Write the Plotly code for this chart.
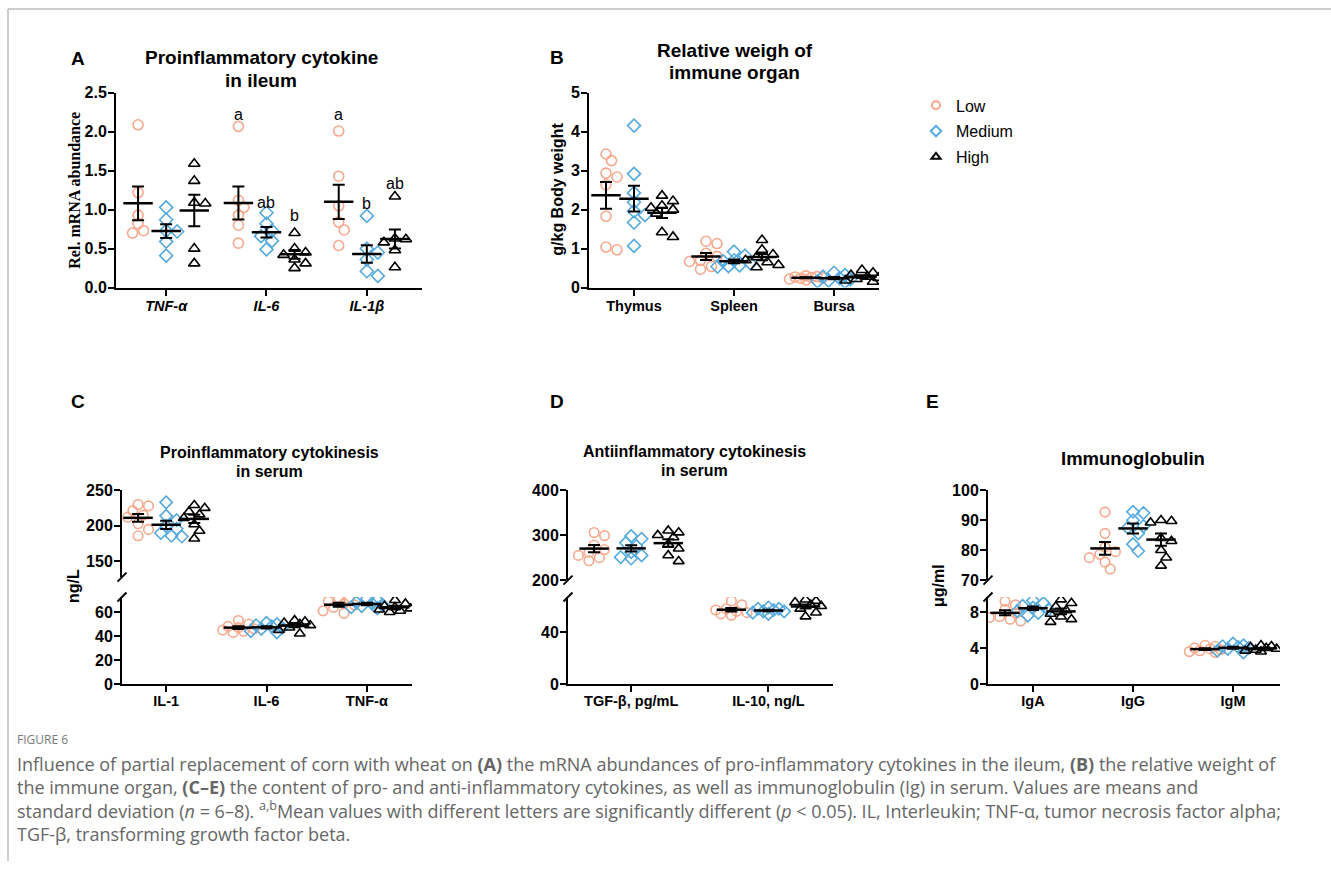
import numpy as np
import plotly.graph_objects as go

W, H = 1331, 870
# the photographed page shows the figure shifted down ~8 px and squeezed ~1.8 % vertically;
# vertical layout positions below are written in target-picture pixels and mapped with Y()
Y_OFF, Y_SCALE = 8.0, 0.982


def Y(y):
    return (y - Y_OFF) / Y_SCALE


GROUPS = ["Low", "Medium", "High"]
COLORS = ["#F6A88C", "#55A9DD", "#000000"]
SYMBOLS = ["circle-open", "diamond-open", "triangle-up-open"]

# ---------------- Panel A: Rel. mRNA abundance (ileum) ----------------
A_categories = ["<i>TNF-α</i>", "<i>IL-6</i>", "<i>IL-1β</i>"]
A_low = [[2.09, 1.22, 0.93, 0.82, 0.73, 0.70],
         [2.07, 1.12, 1.03, 0.93, 0.80, 0.57],
         [2.01, 1.43, 1.05, 0.84, 0.74, 0.54]]
A_medium = [[1.03, 0.87, 0.73, 0.72, 0.59, 0.41],
            [0.96, 0.82, 0.73, 0.66, 0.60, 0.49],
            [0.92, 0.50, 0.45, 0.36, 0.21, 0.15]]
A_high = [[1.59, 1.37, 1.09, 1.08, 0.50, 0.31],
          [0.70, 0.50, 0.45, 0.42, 0.36, 0.31, 0.25],
          [1.17, 0.63, 0.62, 0.58, 0.48, 0.26]]
A_letters = [["", "", ""], ["a", "ab", "b"], ["a", "b", "ab"]]
A_letter_y = [[0, 0, 0], [2.22, 1.09, 0.93], [2.22, 1.08, 1.34]]
A_yticks = [0.0, 0.5, 1.0, 1.5, 2.0, 2.5]

# ---------------- Panel B: relative weight of immune organ ----------------
B_categories = ["Thymus", "Spleen", "Bursa"]
B_low = [[3.43, 3.26, 2.94, 2.84, 2.64, 1.83, 1.04, 0.97],
         [1.19, 1.13, 0.88, 0.80, 0.70, 0.67, 0.54, 0.47],
         [0.30, 0.28, 0.27, 0.26, 0.25, 0.24, 0.22, 0.20]]
B_medium = [[4.16, 2.92, 2.43, 2.19, 1.96, 1.86, 1.67, 1.07],
            [0.92, 0.82, 0.70, 0.68, 0.62, 0.57, 0.55, 0.54],
            [0.38, 0.32, 0.28, 0.24, 0.22, 0.18, 0.16, 0.15]]
B_high = [[2.36, 2.22, 2.10, 2.05, 2.00, 1.90, 1.42, 1.30],
          [1.22, 0.97, 0.85, 0.78, 0.70, 0.65, 0.58, 0.52],
          [0.45, 0.38, 0.32, 0.28, 0.25, 0.22, 0.18, 0.15]]
B_yticks = [0, 1, 2, 3, 4, 5]

# ---------------- Panel C: proinflammatory cytokines in serum ----------------
C_categories = ["IL-1", "IL-6", "TNF-α"]
C_segment = ["upper", "lower", "lower"]
C_low = [[230, 228, 221, 215, 212, 203, 195, 186],
         [53, 50, 48, 47, 46, 45, 44, 43],
         [72, 71, 69, 67, 66, 64, 61, 59]]
C_medium = [[233, 214, 208, 200, 196, 190, 186, 185],
            [51, 50, 49, 48, 47, 46, 44, 43],
            [71, 70, 68, 67, 66, 65, 64, 63]]
C_high = [[229, 225, 220, 216, 211, 202, 193, 182],
          [53, 52, 51, 50, 49, 47, 45, 42],
          [70, 67, 65, 64, 63, 62, 61, 60]]
C_upper_ticks = [150, 200, 250]
C_lower_ticks = [0, 20, 40, 60]

# ---------------- Panel D: antiinflammatory cytokines in serum ----------------
D_categories = ["TGF-β, pg/mL", "IL-10, ng/L"]
D_segment = ["upper", "lower"]
D_low = [[306, 299, 278, 268, 262, 255, 250, 243],
         [64, 61, 58, 57, 56, 55, 54, 53]]
D_medium = [[298, 292, 283, 276, 262, 255, 251, 248],
            [59, 58, 58, 57, 56, 56, 55, 54]]
D_high = [[310, 306, 300, 295, 280, 270, 255, 242],
          [65, 64, 63, 61, 60, 58, 55, 52]]
D_upper_ticks = [200, 300, 400]
D_lower_ticks = [0, 40]

# ---------------- Panel E: immunoglobulin ----------------
E_categories = ["IgA", "IgG", "IgM"]
E_segment = ["lower", "upper", "lower"]
E_low = [[9.2, 8.8, 8.3, 7.9, 7.5, 7.4, 7.2, 7.0],
         [92.7, 85.6, 81.0, 79.5, 78.6, 77.5, 76.0, 73.7],
         [4.3, 4.2, 4.0, 3.9, 3.8, 3.7, 3.6, 3.5]]
E_medium = [[9.3, 9.0, 8.7, 8.5, 8.3, 8.1, 7.9, 7.6],
            [92.8, 92.4, 90.0, 88.0, 87.5, 85.6, 82.0, 79.7],
            [4.5, 4.3, 4.2, 4.1, 4.0, 3.9, 3.7, 3.5]]
E_high = [[9.4, 9.0, 8.6, 8.2, 7.8, 7.5, 7.2, 6.9],
          [90.0, 89.7, 89.2, 84.0, 83.0, 80.0, 77.5, 74.8],
          [4.3, 4.2, 4.1, 4.0, 3.9, 3.8, 3.7, 3.6]]
E_upper_ticks = [70, 80, 90, 100]
E_lower_ticks = [0, 4, 8]

SANS = "Liberation Sans, Arial, sans-serif"
SERIF = "Liberation Serif, Times New Roman, serif"

fig = go.Figure()
layout = dict()
annotations = []
shapes = []


def dx(p0, p1):
    return [p0 / W, p1 / W]


def dy(top, bottom):
    return [1 - Y(bottom) / H, 1 - Y(top) / H]


def axis_names(n):
    return ("x" if n == 1 else f"x{n}", "y" if n == 1 else f"y{n}",
            "xaxis" if n == 1 else f"xaxis{n}", "yaxis" if n == 1 else f"yaxis{n}")


def make_axes(n, xpx, xrange, ypx, yrange, yticks, xticks=None, xtext=None, show_x=True,
              xstand=-2):
    xr, yr, xk, yk = axis_names(n)
    xaxis = dict(domain=dx(*xpx), range=xrange, anchor=yr, visible=show_x,
                 showgrid=False, zeroline=False, fixedrange=True)
    if show_x:
        xaxis.update(showline=True, linecolor="black", linewidth=2,
                     ticks="outside", ticklen=6, tickwidth=2, tickcolor="black",
                     tickmode="array", tickvals=xticks, ticktext=xtext,
                     ticklabelstandoff=xstand,
                     tickfont=dict(family=SANS, size=14.5, color="black", weight="bold"))
    layout[xk] = xaxis
    layout[yk] = dict(domain=dy(*ypx), range=yrange, anchor=xr,
                      showline=True, linecolor="black", linewidth=2,
                      ticks="outside", ticklen=6, tickwidth=2, tickcolor="black",
                      tickmode="array", tickvals=yticks, ticklabelstandoff=-2,
                      ticktext=[(f"{t:.1f}" if isinstance(t, float) else str(t)) for t in yticks],
                      tickfont=dict(family=SANS, size=16, color="black", weight="bold"),
                      showgrid=False, zeroline=False, fixedrange=True)
    return xr, yr


def swarm_offsets(vals, ky, d):
    vals = list(vals)
    order = np.argsort(-np.asarray(vals), kind="stable")
    placed = []
    offs = [0.0] * len(vals)
    step = 0.55 * d
    cands = [0.0]
    for k in range(1, 4):
        cands += [k * step, -k * step]
    for i in order:
        yp = vals[i] * ky
        best, bestd = 0.0, -1.0
        for c in cands:
            md = min([np.hypot(c - px, yp - py) for px, py in placed] or [1e9])
            if md >= 0.85 * d:
                best = c
                break
            if md > bestd:
                bestd, best = md, c
        placed.append((best, yp))
        offs[i] = best
    return offs


def add_groups(xr, yr, cat, group_vals, goff, kx, ky, msize=10):
    for g, vals in enumerate(group_vals):
        offs = swarm_offsets(vals, ky, msize)
        xs = [cat + (g - 1) * goff + o / kx for o in offs]
        fig.add_trace(go.Scatter(
            x=xs, y=vals, xaxis=xr, yaxis=yr, mode="markers", name=GROUPS[g],
            showlegend=False,
            marker=dict(symbol=SYMBOLS[g], size=msize, color=COLORS[g],
                        line=dict(width=1.6, color=COLORS[g]))))
    for g, vals in enumerate(group_vals):
        v = np.asarray(vals, dtype=float)
        m = float(v.mean())
        sem = float(v.std(ddof=1) / np.sqrt(len(v)))
        fig.add_trace(go.Scatter(
            x=[cat + (g - 1) * goff], y=[m], xaxis=xr, yaxis=yr, mode="markers",
            showlegend=False, hoverinfo="skip",
            marker=dict(symbol="line-ew-open", size=21, color="black",
                        line=dict(width=2.5, color="black")),
            error_y=dict(type="data", array=[sem], visible=True, color="black",
                         thickness=2, width=6)))


def text(x, y, s, size, bold=False, family=SANS, color="black", xanchor="center", angle=0,
         align="center"):
    annotations.append(dict(
        x=x / W, y=1 - Y(y) / H, xref="paper", yref="paper", text=s, showarrow=False,
        xanchor=xanchor, yanchor="middle", textangle=angle, align=align,
        font=dict(family=family, size=size, color=color, weight="bold" if bold else "normal")))


def break_marks(axx, ytop_end, ybot_start):
    for yc in (ytop_end, ybot_start):
        shapes.append(dict(type="line", xref="paper", yref="paper",
                           x0=(axx - 4.5) / W, x1=(axx + 4.5) / W,
                           y0=1 - Y(yc + 4.5) / H, y1=1 - Y(yc - 4.5) / H,
                           line=dict(color="black", width=2)))


# ---------- Panel A ----------
xa, ya = make_axes(1, (116, 422), [-0.5, 2.55], (93, 288), [0, 2.5], A_yticks,
                   [0, 1, 2], A_categories)
kxA, kyA = 306 / 3.05, 195 / 2.5
for c in range(3):
    add_groups(xa, ya, c, [A_low[c], A_medium[c], A_high[c]], 0.28, kxA, kyA)
    for g in range(3):
        if A_letters[c][g]:
            annotations.append(dict(x=c + (g - 1) * 0.28, y=A_letter_y[c][g], xref=xa, yref=ya,
                                    text=A_letters[c][g], showarrow=False, yanchor="middle",
                                    font=dict(family=SANS, size=16, color="black")))
text(78, 59, "A", 19, bold=True)
text(261, 58, "Proinflammatory cytokine", 19, bold=True)
text(261, 81, "in ileum", 19, bold=True)
text(75, 191, "Rel. mRNA abundance", 16, bold=True, family=SERIF, angle=-90)

# ---------- Panel B ----------
xb, yb = make_axes(2, (589, 879), [-0.45, 2.45], (93, 288), [0, 5], B_yticks,
                   [0, 1, 2], B_categories)
kxB, kyB = 290 / 2.9, 195 / 5
for c in range(3):
    add_groups(xb, yb, c, [B_low[c], B_medium[c], B_high[c]], 0.28, kxB, kyB)
text(557, 58, "B", 19, bold=True)
text(735, 51, "Relative weigh of", 19, bold=True)
text(735, 73, "immune organ", 19, bold=True)
text(558, 190, "g/kg Body weight", 16, bold=True, angle=-90)

# legend-only entries (no data points)
for g in range(3):
    fig.add_trace(go.Scatter(
        x=[None], y=[None], xaxis=xb, yaxis=yb, mode="markers", name=GROUPS[g],
        legendgroup=GROUPS[g], showlegend=True,
        marker=dict(symbol=SYMBOLS[g], size=8, color=COLORS[g],
                    line=dict(width=2, color=COLORS[g]))))


# ---------- Broken-axis panels ----------
def broken_panel(nu, nl, xpx, xrange, up_px, up_range, up_ticks, lo_px, lo_range, lo_ticks,
                 cats, segs, lows, meds, highs, goff):
    xu, yu = make_axes(nu, xpx, xrange, up_px, up_range, up_ticks, show_x=False)
    xl, yl = make_axes(nl, xpx, xrange, lo_px, lo_range, lo_ticks,
                       list(range(len(cats))), cats, xstand=-3)
    kx = (xpx[1] - xpx[0]) / (xrange[1] - xrange[0])
    kyu = (up_px[1] - up_px[0]) / (up_range[1] - up_range[0])
    kyl = (lo_px[1] - lo_px[0]) / (lo_range[1] - lo_range[0])
    for c in range(len(cats)):
        if segs[c] == "upper":
            add_groups(xu, yu, c, [lows[c], meds[c], highs[c]], goff, kx, kyu, msize=9.5)
        else:
            add_groups(xl, yl, c, [lows[c], meds[c], highs[c]], goff, kx, kyl, msize=9.5)
    break_marks(xpx[0], up_px[1], lo_px[0])


broken_panel(3, 4, (122, 412), [-0.44, 2.45], (491, 578), [128, 250], C_upper_ticks,
             (598, 685), [0, 72.5], C_lower_ticks, C_categories, C_segment,
             C_low, C_medium, C_high, 0.28)
text(78, 402, "C", 19, bold=True)
text(269, 453, "Proinflammatory cytokinesis", 16, bold=True)
text(269, 472, "in serum", 16, bold=True)
text(73, 587, "ng/L", 16, bold=True, angle=-90)

broken_panel(5, 6, (568, 833), [-0.46, 1.47], (491, 581), [200, 400], D_upper_ticks,
             (598, 685), [0, 67], D_lower_ticks, D_categories, D_segment,
             D_low, D_medium, D_high, 0.27)
text(557, 402, "D", 19, bold=True)
text(694, 452, "Antiinflammatory cytokinesis", 16, bold=True)
text(694, 471, "in serum", 16, bold=True)

broken_panel(7, 8, (988, 1280), [-0.45, 2.47], (491, 581), [70, 100], E_upper_ticks,
             (598, 685), [0, 9.67], E_lower_ticks, E_categories, E_segment,
             E_low, E_medium, E_high, 0.28)
text(932, 402, "E", 19, bold=True)
text(1133, 459, "Immunoglobulin", 18.5, bold=True)
text(938, 587, "μg/ml", 16, bold=True, angle=-90)

# ---------- Caption ----------
CAP = "Open Sans, Noto Sans, sans-serif"
text(15, 741, "FIGURE 6", 12, family=CAP, color="#7a7a7a", xanchor="left")
cap_lines = [
    "Influence of partial replacement of corn with wheat on <b>(A)</b> the mRNA abundances of pro-inflammatory cytokines in the ileum, <b>(B)</b> the relative weight of",
    "the immune organ, <b>(C–E)</b> the content of pro- and anti-inflammatory cytokines, as well as immunoglobulin (Ig) in serum. Values are means and",
    "standard deviation (<i>n</i> = 6–8). <sup>a,b</sup>Mean values with different letters are significantly different (<i>p</i> &lt; 0.05). IL, Interleukin; TNF-α, tumor necrosis factor alpha;",
    "TGF-β, transforming growth factor beta.",
]
text(15, 800, "<br>".join(cap_lines), 18, family=CAP, color="#666666", xanchor="left",
     align="left")

# frame
shapes.append(dict(type="line", xref="paper", yref="paper", x0=8 / W, x1=1,
                   y0=1 - Y(9) / H, y1=1 - Y(9) / H, line=dict(color="#bdbdbd", width=1.5)))
shapes.append(dict(type="line", xref="paper", yref="paper", x0=8 / W, x1=8 / W,
                   y0=0, y1=1 - Y(9) / H, line=dict(color="#bdbdbd", width=1.5)))

fig.update_layout(
    width=W, height=H, margin=dict(l=0, r=0, t=0, b=0),
    paper_bgcolor="white", plot_bgcolor="white",
    annotations=annotations, shapes=shapes,
    legend=dict(x=916 / W, y=1 - Y(88.5) / H, xanchor="left", yanchor="top",
                font=dict(family=SANS, size=16, color="black"),
                itemsizing="trace", tracegroupgap=2, bgcolor="rgba(0,0,0,0)"),
    **layout)

fig.write_html(
    "out.html",
    config={"displayModeBar": False, "responsive": False},
    post_script=("var gd=document.getElementById('{plot_id}');"
                 "gd.style.position='fixed';gd.style.top='0px';gd.style.left='0px';"
                 "document.documentElement.style.margin='0';document.documentElement.style.overflow='hidden';"
                 "document.body.style.margin='0';document.body.style.overflow='hidden';"))
